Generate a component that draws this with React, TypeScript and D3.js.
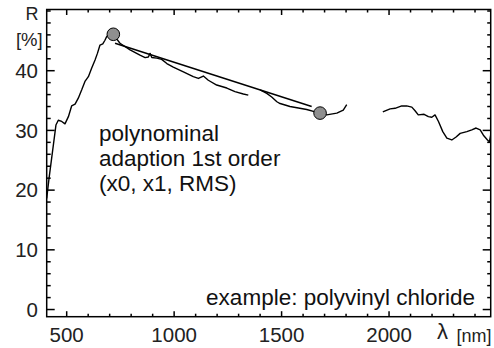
import React from 'react';
import * as d3 from 'd3';

// spectrum pieces [wavelength nm, reflectance %]
const segA: [number, number][] = [
  [407, 18.6], [418, 22.0], [450, 30.9], [461, 31.7], [477, 31.5], [492, 31.1],
  [508, 32.3], [523, 34.1], [539, 34.4], [554, 35.4], [570, 36.8], [585, 38.2],
  [601, 39.0], [616, 40.4], [632, 41.8], [643, 42.9], [655, 44.3], [668, 44.5],
  [678, 45.1], [686, 45.7], [694, 46.0], [712, 46.3], [748, 44.6], [795, 43.5],
  [841, 42.6], [865, 42.2], [880, 42.3], [888, 42.9], [896, 42.2], [919, 42.1],
  [942, 41.9], [966, 41.2], [996, 40.6], [1043, 39.8], [1089, 39.0], [1113, 38.7],
  [1136, 39.1], [1159, 38.4], [1198, 37.6], [1245, 37.1], [1283, 36.5], [1322, 36.1],
  [1345, 35.9],
];
const segB: [number, number][] = [
  [1400, 36.8], [1431, 36.2], [1454, 35.6], [1478, 34.8], [1493, 34.5], [1539, 34.0],
  [1617, 33.5], [1656, 33.1], [1679, 32.9], [1710, 32.6], [1757, 32.9], [1787, 33.4],
  [1803, 34.3],
];
const segC: [number, number][] = [
  [1971, 33.1], [2005, 33.6], [2028, 33.7], [2059, 34.1], [2082, 34.1], [2106, 33.9],
  [2121, 33.3], [2136, 32.6], [2163, 32.7], [2183, 32.3], [2199, 32.2], [2214, 32.6],
  [2230, 31.5], [2250, 29.8], [2269, 28.7], [2292, 28.4], [2312, 28.9], [2331, 29.5],
  [2362, 29.8], [2385, 30.1], [2405, 30.4], [2424, 30.1], [2439, 29.2], [2458, 28.4],
  [2467, 28.1], [2476, 29.8],
];
// first order fit and its two anchor points
const fitLine: [number, number][] = [[725, 44.6], [1640, 34.0]];
const anchors: [number, number][] = [[717, 46.1], [1679, 32.9]];

const xMajor = [500, 1000, 1500, 2000];
const yMajor = [0, 10, 20, 30, 40];
const noteLines = ['polynominal', 'adaption 1st order', '(x0, x1, RMS)'];

const W = 494, H = 348;
const left = 46.7, right = 490.7, top = 9.5, bottom = 316.7;

export default function App() {
  const x = d3.scaleLinear().domain([407, 2473]).range([left, right]);
  const y = d3.scaleLinear().domain([-1.2, 50.25]).range([bottom, top]);
  const line = d3.line<[number, number]>().x(d => x(d[0])).y(d => y(d[1]));

  const xMinor = d3.range(500, 2473, 100).filter(v => !xMajor.includes(v));
  const yMinor = d3.range(0, 50.1, 2).filter(v => !yMajor.includes(v));
  const font = 'Liberation Sans, Arial, Helvetica, sans-serif';

  return (
    <svg width={W} height={H} style={{ position: 'absolute', left: 0, top: 0 }} fontFamily={font}>
      <defs>
        <clipPath id="plot">
          <rect x={left} y={top} width={right - left} height={bottom - top} />
        </clipPath>
      </defs>
      <rect x={0} y={0} width={W} height={H} fill="#fff" />

      <g clipPath="url(#plot)" fill="none" stroke="#000" strokeWidth={1.4} strokeLinejoin="round">
        {[segA, segB, segC].map((s, i) => <path key={i} d={line(s) || ''} />)}
        <path d={line(fitLine) || ''} />
      </g>
      {anchors.map((a, i) => (
        <circle key={i} cx={x(a[0])} cy={y(a[1])} r={6.3} fill="#8f8f8f" stroke="#000" strokeWidth={1} />
      ))}

      {/* frame + ticks on all sides */}
      <g stroke="#000" strokeWidth={1.5}>
        <rect x={left} y={top} width={right - left} height={bottom - top} fill="none" />
        {xMajor.map(v => (
          <g key={'xM' + v}>
            <line x1={x(v)} x2={x(v)} y1={bottom} y2={bottom - 5.5} />
            <line x1={x(v)} x2={x(v)} y1={top} y2={top + 5.5} />
          </g>
        ))}
        {xMinor.map(v => (
          <g key={'xm' + v}>
            <line x1={x(v)} x2={x(v)} y1={bottom} y2={bottom - 3} />
            <line x1={x(v)} x2={x(v)} y1={top} y2={top + 3} />
          </g>
        ))}
        {yMajor.map(v => (
          <g key={'yM' + v}>
            <line x1={left} x2={left + 8} y1={y(v)} y2={y(v)} />
            <line x1={right} x2={right - 8} y1={y(v)} y2={y(v)} />
          </g>
        ))}
        {yMinor.map(v => (
          <g key={'ym' + v}>
            <line x1={left} x2={left + 4} y1={y(v)} y2={y(v)} />
            <line x1={right} x2={right - 3.5} y1={y(v)} y2={y(v)} />
          </g>
        ))}
      </g>

      <g fontSize={20.5} fill="#222">
        {xMajor.map(v => (
          <text key={'xl' + v} x={x(v)} y={341.7} textAnchor="middle">{v}</text>
        ))}
        {yMajor.map(v => (
          <text key={'yl' + v} x={38} y={y(v)} dy="0.35em" textAnchor="end">{v}</text>
        ))}
      </g>

      <text x={38.5} y={20} fontSize={18} textAnchor="end" fill="#222">R</text>
      <text x={42.7} y={45.5} fontSize={18.5} textAnchor="end" fill="#222">[%]</text>
      <text x={437} y={338.5} fontSize={22} fontWeight={300} fill="#222">λ</text>
      <text x={456.5} y={341.5} fontSize={18} fill="#222">[nm]</text>

      <g fontSize={22.5} fill="#111">
        {noteLines.map((t, i) => (
          <text key={t} x={99} y={140.5 + i * 25.3}>{t}</text>
        ))}
        <text x={475} y={305} textAnchor="end">example: polyvinyl chloride</text>
      </g>
    </svg>
  );
}
